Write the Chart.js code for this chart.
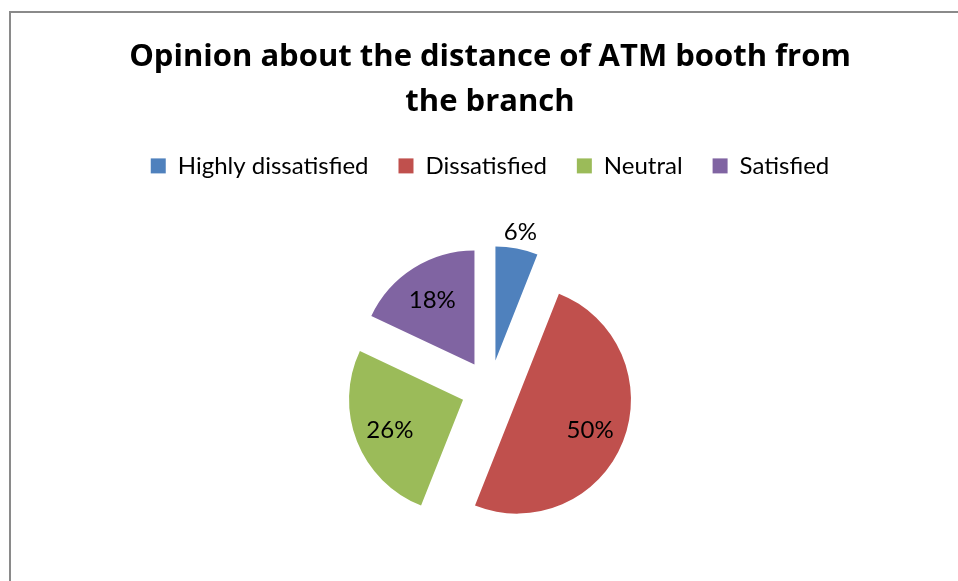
<!DOCTYPE html>
<html>
<head>
<meta charset="utf-8">
<script src="https://cdn.jsdelivr.net/npm/chart.js@4/dist/chart.umd.min.js"></script>
<style>
  html, body { margin: 0; padding: 0; background: #fff; overflow: hidden; }
  body { width: 958px; height: 581px; position: relative; }
  #frame {
    position: absolute; left: 9px; top: 11px; width: 1000px; height: 600px;
    border-left: 2px solid #8a8a8a; border-top: 2px solid #8a8a8a;
    box-sizing: border-box; pointer-events: none; z-index: 2;
  }
  #wrap { position: absolute; left: 10px; top: 0; width: 960px; height: 600px; }
</style>
</head>
<body>
<div id="frame"></div>
<div id="wrap"><canvas id="pieChart"></canvas></div>
<script>
"use strict";

const categories = ["Highly dissatisfied", "Dissatisfied", "Neutral", "Satisfied"];
const shares = [6, 50, 26, 18];
const sliceColors = ["#4F81BD", "#C0504D", "#9BBB59", "#8064A2"];

const FONT = "Lato, 'Open Sans', sans-serif";
const TITLE_FONT = "'Open Sans', Lato, sans-serif";
const RADIUS = 114;
const EXPLODE = 29;

/**
 * Pulls each slice away from the centre along its middle angle,
 * so every piece keeps the same radius.
 */
const explodePlugin = {
    id: "explode",
    afterDatasetUpdate(chart, args) {
        const meta = chart.getDatasetMeta(args.index);
        meta.data.forEach(arc => {
            const mid = (arc.startAngle + arc.endAngle) / 2;
            arc.x += Math.cos(mid) * EXPLODE;
            arc.y += Math.sin(mid) * EXPLODE;
        });
    }
};

/**
 * Writes the percentages: inside the larger slices, just outside the small one.
 */
const sliceLabels = {
    id: "sliceLabels",
    afterDatasetsDraw(chart) {
        const ctx = chart.ctx;
        const meta = chart.getDatasetMeta(0);
        const values = chart.data.datasets[0].data;

        ctx.save();
        ctx.font = "24px " + FONT;
        ctx.fillStyle = "#000";
        ctx.textAlign = "center";
        ctx.textBaseline = "middle";

        meta.data.forEach((arc, i) => {
            const mid = (arc.startAngle + arc.endAngle) / 2;
            const r = values[i] < 10 ? arc.outerRadius + 19 : arc.outerRadius * 0.69;
            ctx.fillText(values[i] + "%", arc.x + Math.cos(mid) * r, arc.y + Math.sin(mid) * r + 2);
        });
        ctx.restore();
    }
};

const ctx = document.getElementById("pieChart");

new Chart(ctx, {
    type: "pie",
    data: {
        labels: categories,
        datasets: [{
            data: shares,
            backgroundColor: sliceColors,
            borderWidth: 0,
            radius: RADIUS
        }]
    },
    options: {
        responsive: true,
        maintainAspectRatio: false,
        animation: false,
        layout: { padding: { bottom: 10 } },
        plugins: {
            title: {
                display: true,
                text: ["Opinion about the distance of ATM booth from", "the branch"],
                color: "#000",
                font: { family: TITLE_FONT, size: 31, weight: "bold", lineHeight: 1.45 },
                padding: { top: 35, bottom: -1 }
            },
            legend: {
                position: "top",
                labels: {
                    color: "#000",
                    font: { family: FONT, size: 24 },
                    boxWidth: 15,
                    boxHeight: 15,
                    padding: 30
                }
            },
            tooltip: { enabled: false }
        }
    },
    plugins: [explodePlugin, sliceLabels]
});
</script>
</body>
</html>
